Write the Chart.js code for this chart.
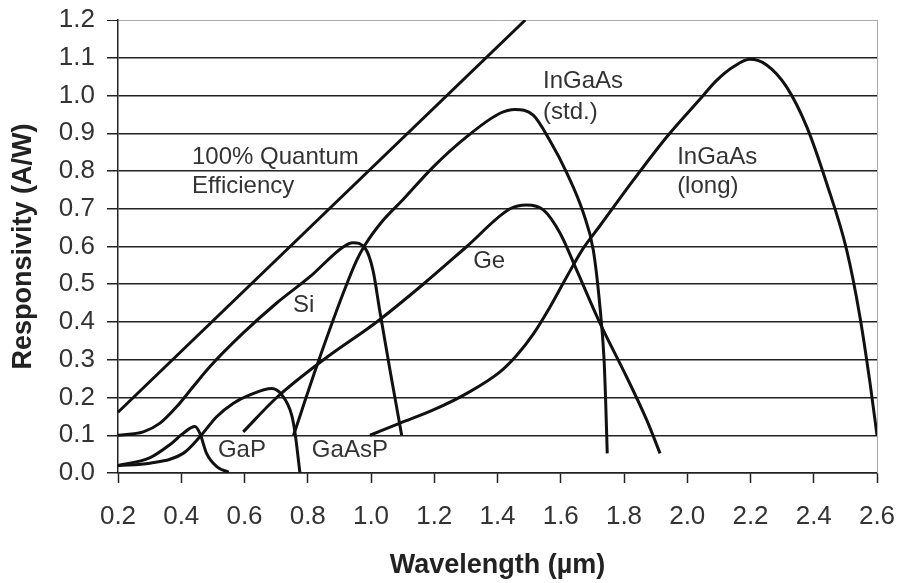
<!DOCTYPE html>
<html>
<head>
<meta charset="utf-8">
<title>Responsivity</title>
<script src="https://cdn.jsdelivr.net/npm/chart.js@4"></script>
<style>
  html, body { margin: 0; padding: 0; background: #fff; }
  canvas { display: block; }
</style>
</head>
<body>
<canvas id="grafico" width="901" height="583"></canvas>
<script>
"use strict";

/* =========================
   DADOS
========================= */

const xTicks = [0.2, 0.4, 0.6, 0.8, 1.0, 1.2, 1.4, 1.6, 1.8, 2.0, 2.2, 2.4, 2.6];
const yTicks = [0.0, 0.1, 0.2, 0.3, 0.4, 0.5, 0.6, 0.7, 0.8, 0.9, 1.0, 1.1, 1.2];

const qeWave = [0.2, 1.488];
const qeResp = [0.161, 1.2];

const siWave = [0.2, 0.28, 0.333, 0.386, 0.438, 0.491, 0.596, 0.70, 0.807, 0.912, 0.943, 0.981, 1.006, 1.029, 1.06, 1.097];
const siResp = [0.10, 0.109, 0.132, 0.176, 0.229, 0.282, 0.371, 0.449, 0.52, 0.599, 0.61, 0.596, 0.538, 0.423, 0.273, 0.10];

const gapWave = [0.2, 0.3, 0.364, 0.406, 0.443, 0.459, 0.48, 0.512, 0.55];
const gapResp = [0.02, 0.04, 0.075, 0.105, 0.123, 0.105, 0.052, 0.017, 0.002];

const gaaspWave = [0.2, 0.301, 0.406, 0.459, 0.512, 0.565, 0.617, 0.686, 0.718, 0.749, 0.76, 0.775];
const gaaspResp = [0.02, 0.026, 0.052, 0.096, 0.149, 0.185, 0.207, 0.224, 0.207, 0.154, 0.105, 0.002];

const geWave = [0.596, 0.702, 0.85, 1.018, 1.165, 1.303, 1.44, 1.492, 1.545, 1.598, 1.65, 1.724, 1.808, 1.872, 1.914];
const geResp = [0.109, 0.2, 0.3, 0.4, 0.5, 0.6, 0.7, 0.71, 0.697, 0.635, 0.538, 0.397, 0.255, 0.14, 0.052];

const stdWave = [0.755, 0.828, 0.912, 0.955, 0.981, 1.039, 1.10, 1.197, 1.303, 1.408, 1.455, 1.513, 1.566, 1.619, 1.671, 1.703, 1.724, 1.737, 1.742, 1.747];
const stdResp = [0.10, 0.282, 0.476, 0.564, 0.604, 0.67, 0.723, 0.811, 0.891, 0.953, 0.963, 0.948, 0.88, 0.795, 0.69, 0.59, 0.44, 0.30, 0.19, 0.052];

const longWave = [0.997, 1.092, 1.197, 1.303, 1.408, 1.461, 1.513, 1.566, 1.619, 1.671, 1.724, 1.829, 1.935, 2.04, 2.093, 2.146, 2.198, 2.251, 2.314, 2.378, 2.441, 2.504, 2.546, 2.578, 2.6];
const longResp = [0.10, 0.132, 0.167, 0.211, 0.268, 0.312, 0.368, 0.44, 0.52, 0.595, 0.655, 0.775, 0.89, 0.99, 1.04, 1.076, 1.096, 1.081, 1.023, 0.917, 0.767, 0.591, 0.414, 0.238, 0.10];

const notas = [
    { text: "100% Quantum", x: 0.434, y: 0.837 },
    { text: "Efficiency",   x: 0.434, y: 0.758 },
    { text: "Si",           x: 0.753, y: 0.445 },
    { text: "GaP",          x: 0.516, y: 0.061 },
    { text: "GaAsP",        x: 0.813, y: 0.061 },
    { text: "Ge",           x: 1.323, y: 0.56 },
    { text: "InGaAs",       x: 1.544, y: 1.038 },
    { text: "(std.)",       x: 1.544, y: 0.954 },
    { text: "InGaAs",       x: 1.968, y: 0.837 },
    { text: "(long)",       x: 1.968, y: 0.758 }
];

/* =========================
   HELPERS
========================= */

const FONTE = "'Liberation Sans', Arial, sans-serif";

function pontos(xs, ys){

    return xs.map(function(v, i){
        return { x: v, y: ys[i] };
    });

}

function curva(label, xs, ys){

    return {
        label: label,
        data: pontos(xs, ys),
        borderColor: "#111",
        borderWidth: 3,
        pointRadius: 0,
        fill: false,
        cubicInterpolationMode: "monotone"
    };

}

/* =========================
   PLUGIN TEXTOS
========================= */

const notasPlugin = {

    id: "notas",

    afterDatasetsDraw: function(chart){

        const ctx = chart.ctx;
        const area = chart.chartArea;
        const sx = chart.scales.x;
        const sy = chart.scales.y;

        ctx.save();

        // borda direita cinza
        ctx.strokeStyle = "#aaa";
        ctx.lineWidth = 1;
        ctx.beginPath();
        ctx.moveTo(area.right + 0.5, area.top);
        ctx.lineTo(area.right + 0.5, area.bottom);
        ctx.stroke();

        ctx.fillStyle = "#333";
        ctx.font = "24px " + FONTE;
        ctx.textAlign = "left";
        ctx.textBaseline = "middle";

        notas.forEach(function(n){
            ctx.fillText(n.text, sx.getPixelForValue(n.x), sy.getPixelForValue(n.y));
        });

        ctx.restore();

    }

};

/* =========================
   GRAFICO
========================= */

new Chart(document.getElementById("grafico"), {

    type: "line",

    data: {
        datasets: [
            curva("100% QE", qeWave, qeResp),
            curva("Si", siWave, siResp),
            curva("GaP", gapWave, gapResp),
            curva("GaAsP", gaaspWave, gaaspResp),
            curva("Ge", geWave, geResp),
            curva("InGaAs std", stdWave, stdResp),
            curva("InGaAs long", longWave, longResp)
        ]
    },

    options: {

        responsive: false,
        animation: false,

        layout: { padding: { top: 20, right: 24, left: 0, bottom: 0 } },

        plugins: {
            legend: { display: false },
            tooltip: { enabled: false }
        },

        scales: {

            x: {
                type: "linear",
                min: 0.2,
                max: 2.6,
                afterBuildTicks: function(s){ s.ticks = xTicks.map(v => ({ value: v })); },
                afterFit: function(s){
                    s.height = 110;
                    s.paddingLeft = 0;
                    s.paddingRight = 0;
                },
                ticks: {
                    autoSkip: false,
                    maxRotation: 0,
                    padding: 18,
                    color: "#333",
                    font: { family: FONTE, size: 26 },
                    callback: v => Number(v).toFixed(1)
                },
                grid: {
                    drawOnChartArea: false,
                    drawTicks: true,
                    tickLength: 10,
                    tickColor: "#222",
                    tickWidth: 1.5
                },
                border: { color: "#222", width: 1.5 },
                title: {
                    display: true,
                    text: "Wavelength (µm)",
                    color: "#222",
                    font: { family: FONTE, size: 27, weight: "bold" },
                    padding: { top: 0, bottom: 1 }
                }
            },

            y: {
                min: 0,
                max: 1.2,
                afterBuildTicks: function(s){ s.ticks = yTicks.map(v => ({ value: v })); },
                afterFit: function(s){
                    s.width = 118;
                    s.paddingTop = 0;
                    s.paddingBottom = 0;
                },
                ticks: {
                    padding: 12,
                    color: "#333",
                    font: { family: FONTE, size: 26 },
                    callback: v => Number(v).toFixed(1)
                },
                grid: {
                    drawOnChartArea: true,
                    drawTicks: true,
                    tickLength: 11,
                    tickColor: "#222",
                    color: c => (c.tick && c.tick.value === 1.2) ? "#aaa" : "#222",
                    lineWidth: c => (c.tick && c.tick.value === 1.2) ? 1 : 1.5
                },
                border: { color: "#222", width: 1.5 },
                title: {
                    display: true,
                    text: "Responsivity (A/W)",
                    color: "#222",
                    font: { family: FONTE, size: 27, weight: "bold" },
                    padding: { top: 7, bottom: 0 }
                }
            }

        }

    },

    plugins: [notasPlugin]

});
</script>
</body>
</html>
